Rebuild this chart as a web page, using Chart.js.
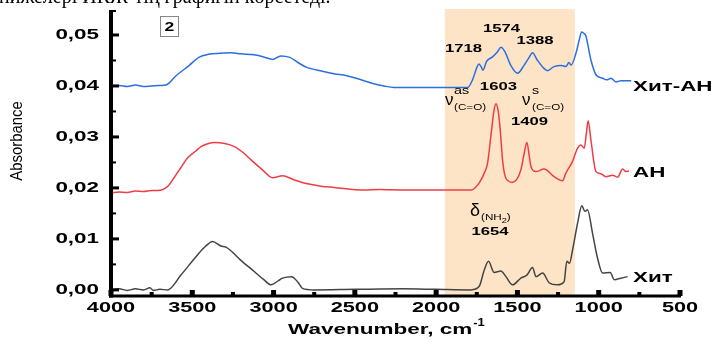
<!DOCTYPE html>
<html>
<head>
<meta charset="utf-8">
<script src="https://cdn.jsdelivr.net/npm/chart.js@4.4.0/dist/chart.umd.min.js"></script>
<style>
  body { margin: 0; background: #fff; }
  #wrap { width: 718px; height: 344px; }
</style>
</head>
<body>
<div id="wrap"><canvas id="irChart" width="718" height="344"></canvas></div>
<script>
// ---- data ----
const seriesNames = ["Хит-АН", "АН", "Хит"];

const wnHitAn = [4000,3950,3900,3850,3800,3750,3700,3660,3600,3520,3460,3400,3330,3262,3200,3120,3060,3006,2955,2900,2850,2800,2700,2628,2550,2481,2400,2321,2260,2100,1950,1806,1776,1750,1737,1722,1712,1690,1653,1625,1601,1575,1540,1499,1460,1430,1407,1380,1345,1315,1275,1230,1202,1183,1170,1140,1120,1105,1090,1079,1048,1017,976,950,925,894,863,822,800];
const absHitAn = [0.0400,0.0401,0.0399,0.0402,0.0399,0.0400,0.0401,0.0402,0.0420,0.0440,0.0456,0.0462,0.0464,0.0465,0.0463,0.0461,0.0457,0.0452,0.0459,0.0456,0.0446,0.0437,0.0429,0.0424,0.0420,0.0414,0.0406,0.0400,0.0397,0.0397,0.0397,0.0397,0.0412,0.0436,0.0443,0.0437,0.0431,0.0448,0.0457,0.0466,0.0476,0.0466,0.0440,0.0425,0.0440,0.0455,0.0465,0.0452,0.0437,0.0430,0.0438,0.0440,0.0438,0.0446,0.0441,0.0464,0.0490,0.0506,0.0503,0.0498,0.0451,0.0422,0.0415,0.0412,0.0415,0.0408,0.0410,0.0410,0.0410];

const wnAn = [4000,3950,3900,3850,3800,3750,3713,3651,3612,3570,3528,3480,3446,3400,3364,3300,3241,3190,3139,3070,3006,2945,2875,2791,2700,2628,2444,2350,2200,2014,1900,1786,1737,1700,1684,1659,1645,1632,1618,1606,1590,1571,1530,1479,1460,1442,1428,1417,1386,1336,1274,1223,1202,1161,1130,1110,1089,1075,1065,1048,1017,987,956,915,884,853,833,814];
const absAn = [0.0190,0.0192,0.0191,0.0194,0.0193,0.0195,0.0195,0.0203,0.0220,0.0240,0.0259,0.0272,0.0281,0.0287,0.0289,0.0287,0.0281,0.0270,0.0255,0.0236,0.0220,0.0224,0.0216,0.0208,0.0203,0.0201,0.0196,0.0197,0.0196,0.0196,0.0196,0.0196,0.0209,0.0232,0.0248,0.0314,0.0350,0.0365,0.0350,0.0314,0.0250,0.0219,0.0211,0.0235,0.0265,0.0289,0.0265,0.0242,0.0232,0.0237,0.0222,0.0214,0.0229,0.0252,0.0278,0.0284,0.0278,0.0310,0.0332,0.0294,0.0232,0.0228,0.0222,0.0225,0.0221,0.0237,0.0232,0.0233];

const wnHit = [4000,3950,3900,3850,3800,3760,3740,3700,3651,3570,3467,3420,3375,3324,3293,3201,3119,3060,3016,2970,2945,2889,2850,2822,2752,2500,2200,2000,1786,1735,1704,1678,1643,1602,1571,1530,1479,1442,1407,1386,1345,1305,1254,1213,1196,1180,1161,1130,1104,1085,1069,1038,1007,976,929,905,864,822];
const absHit = [0.0000,0.0002,-0.0001,0.0002,0.0000,0.0004,-0.0001,0.0001,0.0000,0.0029,0.0069,0.0085,0.0095,0.0086,0.0084,0.0058,0.0036,0.0020,0.0010,0.0018,0.0023,0.0026,0.0015,0.0003,0.0000,0.0001,0.0002,0.0001,0.0000,0.0007,0.0039,0.0056,0.0034,0.0037,0.0026,0.0010,0.0023,0.0029,0.0044,0.0026,0.0033,0.0014,0.0010,0.0016,0.0056,0.0052,0.0078,0.0131,0.0165,0.0154,0.0157,0.0111,0.0062,0.0033,0.0034,0.0020,0.0023,0.0026];

const xTicks = [4000,3500,3000,2500,2000,1500,1000,500];
const yTicks = [0.00,0.01,0.02,0.03,0.04,0.05];
const shadeRange = [1946, 1147];

// peak labels: [text, wavenumber position, absorbance position]
const peakLabels = [
  ["1718", 1832, 0.0473],
  ["1574", 1598, 0.0512],
  ["1388", 1392, 0.0488],
  ["1603", 1617, 0.0398],
  ["1409", 1426, 0.0329],
  ["1654", 1669, 0.0114]
];

function toPoints(xs, ys) {
  return xs.map((x, i) => ({ x: x, y: ys[i] }));
}

// stretched text helper (the figure uses a wide bold face)
function stretchText(ctx, text, x, y, font, sx, align, color) {
  ctx.save();
  ctx.translate(x, y);
  ctx.scale(sx, 1);
  ctx.font = font;
  ctx.fillStyle = color || "#000";
  ctx.textAlign = align || "left";
  ctx.textBaseline = "middle";
  ctx.fillText(text, 0, 0);
  const w = ctx.measureText(text).width * sx;
  ctx.restore();
  return w;
}

const shadePlugin = {
  id: "shade",
  beforeDatasetsDraw(chart) {
    const { ctx, chartArea } = chart;
    const xs = chart.scales.x;
    const x1 = xs.getPixelForValue(shadeRange[0]);
    const x2 = xs.getPixelForValue(shadeRange[1]);
    ctx.save();
    ctx.fillStyle = "#fde4c6";
    ctx.fillRect(x1, chartArea.top - 1, x2 - x1, chartArea.bottom - chartArea.top + 1);
    ctx.restore();
  }
};

const decorPlugin = {
  id: "decor",
  afterDraw(chart) {
    const { ctx, chartArea } = chart;
    const xs = chart.scales.x, ys = chart.scales.y;
    const L = chartArea.left, R = chartArea.right, T = chartArea.top, B = chartArea.bottom;
    ctx.save();
    ctx.fillStyle = "#000";
    ctx.strokeStyle = "#000";

    // axes
    ctx.lineWidth = 4;
    ctx.beginPath(); ctx.moveTo(L, T); ctx.lineTo(L, B + 1.5); ctx.stroke();
    ctx.lineWidth = 3;
    ctx.beginPath(); ctx.moveTo(L - 2, B); ctx.lineTo(R + 1, B); ctx.stroke();
    ctx.lineWidth = 2;
    ctx.beginPath(); ctx.moveTo(L, T + 1); ctx.lineTo(L + 5, T + 1); ctx.stroke();

    // y ticks (inside)
    yTicks.forEach(v => {
      const py = ys.getPixelForValue(v);
      ctx.fillRect(L, py - 1.5, 8, 3);
      stretchText(ctx, v.toFixed(2).replace(".", ","), 99, py, "bold 14px 'Liberation Sans', Arial", 1.6, "right");
      const pm = ys.getPixelForValue(v + 0.005);
      if (pm > T + 2) ctx.fillRect(L, pm - 1, 5, 2);
    });

    // x ticks (inside)
    xTicks.forEach(v => {
      const px = xs.getPixelForValue(v);
      ctx.fillRect(px - 2.5, B - 6, 5, 6);
      stretchText(ctx, String(v), px, 308, "bold 14px 'Liberation Sans', Arial", 1.55, "center");
      if (v > 500) {
        const pm = xs.getPixelForValue(v - 250);
        ctx.fillRect(pm - 2, B - 4, 4, 4);
      }
    });

    // axis titles
    const tw = stretchText(ctx, "Wavenumber, cm", 288, 330, "bold 15px 'Liberation Sans', Arial", 1.5, "left");
    stretchText(ctx, "-1", 288 + tw + 1, 323, "bold 10px 'Liberation Sans', Arial", 1.3, "left");

    ctx.save();
    ctx.translate(18, 141);
    ctx.rotate(-Math.PI / 2);
    ctx.scale(0.93, 1);
    ctx.font = "16px 'Liberation Sans', Arial";
    ctx.textAlign = "center";
    ctx.textBaseline = "middle";
    ctx.fillText("Absorbance", 0, 0);
    ctx.restore();

    // series labels
    const bold14 = "bold 14px 'Liberation Sans', Arial";
    stretchText(ctx, seriesNames[0], 633, 87, bold14, 1.6, "left");
    stretchText(ctx, seriesNames[1], 633, 173, bold14, 1.6, "left");
    stretchText(ctx, seriesNames[2], 633, 278, bold14, 1.6, "left");

    // peak wavenumbers
    peakLabels.forEach(([t, w, a]) => {
      stretchText(ctx, t, xs.getPixelForValue(w), ys.getPixelForValue(a), "bold 11.5px 'Liberation Sans', Arial", 1.45, "center");
    });

    // vibration symbols
    const small = "9px 'Liberation Sans', Arial";
    stretchText(ctx, "ν", 445, 100, "17px 'Liberation Sans', Arial", 1, "left");
    stretchText(ctx, "as", 454, 91, "11px 'Liberation Sans', Arial", 1.3, "left");
    stretchText(ctx, "(C=O)", 454, 108, small, 1.3, "left");
    stretchText(ctx, "ν", 522, 100, "17px 'Liberation Sans', Arial", 1, "left");
    stretchText(ctx, "s", 532, 91, "11px 'Liberation Sans', Arial", 1.3, "left");
    stretchText(ctx, "(C=O)", 532, 108, small, 1.3, "left");

    stretchText(ctx, "δ", 470, 211, "18px 'Liberation Sans', Arial", 1, "left");
    let cx = 481;
    cx += stretchText(ctx, "(NH", cx, 218, small, 1.3, "left");
    cx += stretchText(ctx, "2", cx, 221, "7px 'Liberation Sans', Arial", 1.3, "left");
    stretchText(ctx, ")", cx, 218, small, 1.3, "left");

    // panel number box
    ctx.lineWidth = 1;
    ctx.strokeStyle = "#888";
    ctx.strokeRect(160.5, 16.5, 18, 20);
    stretchText(ctx, "2", 169.5, 27, "bold 13px 'Liberation Sans', Arial", 1.35, "center");

    // cut-off line of surrounding text
    ctx.font = "20px 'Liberation Serif', serif";
    ctx.fillStyle = "#000";
    ctx.textAlign = "left";
    ctx.textBaseline = "alphabetic";
    ctx.fillText("нижелері ИКЖ-тің графигін көрсетеді.", -1, 3, 468);

    ctx.restore();
  }
};

const ctx = document.getElementById("irChart");

new Chart(ctx, {
  type: "line",
  data: {
    datasets: [
      { label: seriesNames[0], data: toPoints(wnHitAn, absHitAn), borderColor: "#2b6fe0", borderWidth: 1.5 },
      { label: seriesNames[1], data: toPoints(wnAn, absAn), borderColor: "#f03c44", borderWidth: 1.5 },
      { label: seriesNames[2], data: toPoints(wnHit, absHit), borderColor: "#444444", borderWidth: 1.5 }
    ]
  },
  options: {
    responsive: false,
    animation: false,
    events: [],
    elements: {
      point: { radius: 0 },
      line: { tension: 0.35, cubicInterpolationMode: "monotone", fill: false }
    },
    layout: { padding: { top: 10, right: 38, left: 0, bottom: 0 } },
    plugins: { legend: { display: false }, tooltip: { enabled: false } },
    scales: {
      x: {
        type: "linear",
        reverse: true,
        min: 500,
        max: 4000,
        grid: { display: false },
        border: { display: false },
        ticks: { display: false },
        afterFit(s) { s.height = 48; }
      },
      y: {
        min: -0.0012,
        max: 0.0549,
        grid: { display: false },
        border: { display: false },
        ticks: { display: false },
        afterFit(s) { s.width = 111; }
      }
    }
  },
  plugins: [shadePlugin, decorPlugin]
});
</script>
</body>
</html>
